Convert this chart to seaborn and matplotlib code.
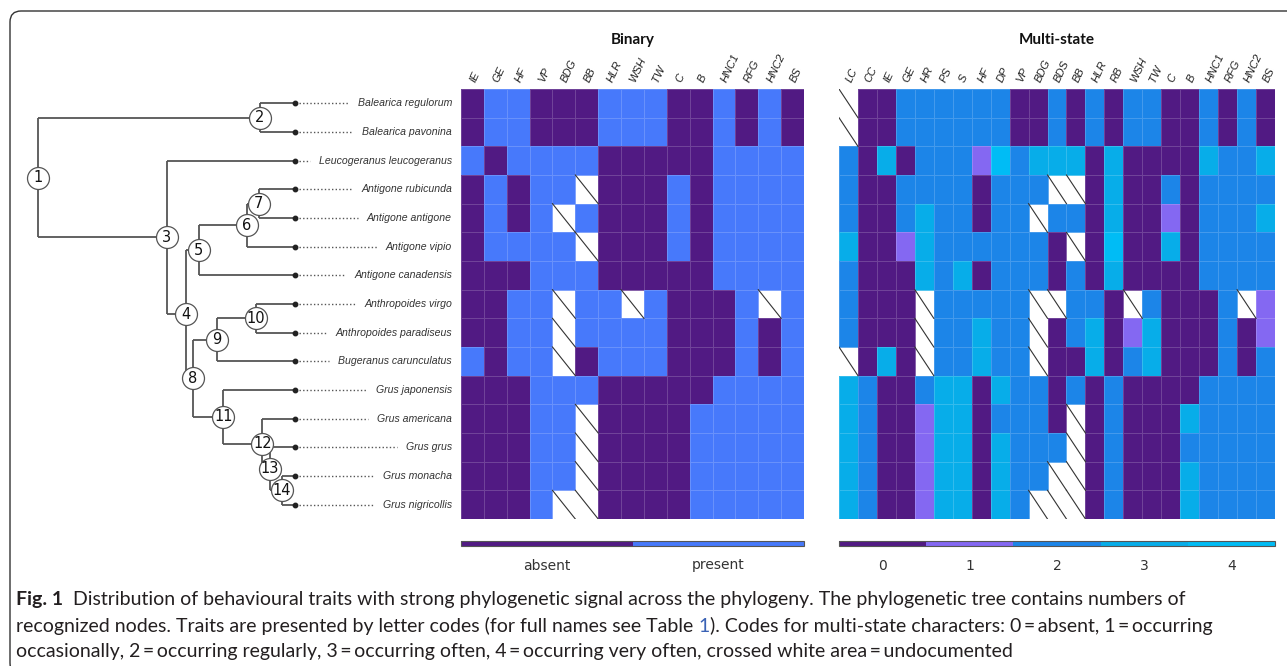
import matplotlib

matplotlib.use("Agg")
import matplotlib.pyplot as plt
import numpy as np
import pandas as pd
import seaborn as sns
from matplotlib.colors import ListedColormap
from matplotlib.patches import FancyBboxPatch
from matplotlib.transforms import IdentityTransform

N = np.nan

# ---------------------------------------------------------------------------
# Data
# ---------------------------------------------------------------------------

species = [
    "Balearica regulorum",
    "Balearica pavonina",
    "Leucogeranus leucogeranus",
    "Antigone rubicunda",
    "Antigone antigone",
    "Antigone vipio",
    "Antigone canadensis",
    "Anthropoides virgo",
    "Anthropoides paradiseus",
    "Bugeranus carunculatus",
    "Grus japonensis",
    "Grus americana",
    "Grus grus",
    "Grus monacha",
    "Grus nigricollis",
]

binary_traits = ["IE", "GE", "HF", "VP", "BDG", "BB", "HLR", "WSH", "TW",
                 "C", "B", "HNC1", "RFG", "HNC2", "BS"]
binary_values = [
    [0, 1, 1, 0, 0, 0, 1, 1, 1, 0, 0, 1, 0, 1, 0],
    [0, 1, 1, 0, 0, 0, 1, 1, 1, 0, 0, 1, 0, 1, 0],
    [1, 0, 1, 1, 1, 1, 0, 0, 0, 0, 0, 1, 1, 1, 1],
    [0, 1, 0, 1, 1, N, 0, 0, 0, 1, 0, 1, 1, 1, 1],
    [0, 1, 0, 1, N, 1, 0, 0, 0, 1, 0, 1, 1, 1, 1],
    [0, 1, 1, 1, 1, N, 0, 0, 0, 1, 0, 1, 1, 1, 1],
    [0, 0, 0, 1, 1, 1, 0, 0, 0, 0, 0, 1, 1, 1, 1],
    [0, 0, 1, 1, N, 1, 1, N, 1, 0, 0, 0, 1, N, 1],
    [0, 0, 1, 1, N, 1, 1, 1, 1, 0, 0, 0, 1, 0, 1],
    [1, 0, 1, 1, N, 0, 1, 1, 1, 0, 0, 0, 1, 0, 1],
    [0, 0, 0, 1, 1, 1, 0, 0, 0, 0, 0, 1, 1, 1, 1],
    [0, 0, 0, 1, 1, N, 0, 0, 0, 0, 1, 1, 1, 1, 1],
    [0, 0, 0, 1, 1, N, 0, 0, 0, 0, 1, 1, 1, 1, 1],
    [0, 0, 0, 1, 1, N, 0, 0, 0, 0, 1, 1, 1, 1, 1],
    [0, 0, 0, 1, N, N, 0, 0, 0, 0, 1, 1, 1, 1, 1],
]

multi_traits = ["LC", "CC", "IE", "GE", "HR", "PS", "S", "HF", "DP", "VP", "BDG",
                "BDS", "BB", "HLR", "RB", "WSH", "TW", "C", "B", "HNC1", "RFG",
                "HNC2", "BS"]
multi_values = [
    [N, 0, 0, 2, 2, 2, 2, 2, 2, 0, 0, 2, 0, 2, 0, 2, 2, 0, 0, 2, 0, 2, 0],
    [N, 0, 0, 2, 2, 2, 2, 2, 2, 0, 0, 2, 0, 2, 0, 2, 2, 0, 0, 2, 0, 2, 0],
    [2, 0, 3, 0, 2, 2, 2, 1, 4, 2, 3, 3, 3, 0, 3, 0, 0, 0, 0, 3, 2, 2, 3],
    [2, 0, 0, 2, 2, 2, 2, 0, 2, 2, 2, N, N, 0, 3, 0, 0, 2, 0, 2, 2, 2, 2],
    [2, 0, 0, 2, 3, 2, 2, 0, 2, 2, N, 2, 2, 0, 3, 0, 0, 1, 0, 2, 2, 2, 3],
    [3, 0, 0, 1, 3, 2, 2, 2, 2, 2, 2, 0, N, 0, 4, 0, 0, 3, 0, 2, 2, 2, 2],
    [2, 0, 0, 0, 3, 2, 3, 0, 2, 2, 2, 0, 2, 0, 3, 0, 0, 0, 0, 2, 2, 2, 2],
    [2, 0, 0, 0, N, 2, 2, 2, 2, 2, N, N, 2, 2, 0, N, 2, 0, 0, 0, 2, N, 1],
    [2, 0, 0, 0, N, 2, 2, 3, 2, 2, N, 0, 2, 3, 0, 1, 3, 0, 0, 0, 2, 0, 1],
    [N, 0, 3, 0, N, 2, 2, 3, 2, 2, N, 0, 0, 3, 0, 2, 3, 0, 0, 0, 2, 0, 2],
    [3, 2, 0, 0, 2, 3, 3, 0, 3, 2, 2, 0, 2, 0, 2, 0, 0, 0, 0, 2, 2, 2, 2],
    [3, 2, 0, 0, 1, 3, 3, 0, 2, 2, 2, 0, N, 0, 2, 0, 0, 0, 3, 2, 2, 2, 2],
    [3, 2, 0, 0, 1, 3, 3, 0, 3, 2, 2, 2, N, 0, 2, 0, 0, 0, 2, 2, 2, 2, 2],
    [3, 2, 0, 0, 1, 3, 3, 0, 3, 2, 2, N, N, 0, 2, 0, 0, 0, 3, 2, 2, 2, 2],
    [3, 2, 0, 0, 1, 3, 3, 0, 3, 2, N, N, N, 0, 2, 0, 0, 0, 3, 2, 2, 2, 2],
]

binary_labels = ["absent", "present"]
multi_labels = ["0", "1", "2", "3", "4"]
binary_colors = ["#511a83", "#4779fb"]
multi_colors = ["#511a83", "#8468f2", "#1c85e8", "#07ade9", "#00bcf5"]

# internal node -> children (ints are nodes, strings are tips)
tree_children = {
    1: (2, 3),
    2: ("Balearica regulorum", "Balearica pavonina"),
    3: ("Leucogeranus leucogeranus", 4),
    4: (5, 8),
    5: (6, "Antigone canadensis"),
    6: (7, "Antigone vipio"),
    7: ("Antigone rubicunda", "Antigone antigone"),
    8: (9, 11),
    9: (10, "Bugeranus carunculatus"),
    10: ("Anthropoides virgo", "Anthropoides paradiseus"),
    11: ("Grus japonensis", 12),
    12: ("Grus americana", 13),
    13: ("Grus grus", 14),
    14: ("Grus monacha", "Grus nigricollis"),
}
node_depth = {1: 37.7, 2: 260, 3: 166.7, 4: 185.7, 5: 198.7, 6: 246.7, 7: 258.7,
              8: 192.7, 9: 216.7, 10: 255.7, 11: 223.3, 12: 262.3, 13: 270, 14: 281.7}
tip_depth = 295

caption_1 = ("Distribution of behavioural traits with strong phylogenetic signal "
             "across the phylogeny. The phylogenetic tree contains numbers of")
caption_2a = "recognized nodes. Traits are presented by letter codes (for full names see Table"
caption_2b = "1"
caption_2c = "). Codes for multi-state characters: 0\u2009=\u2009absent, 1\u2009=\u2009occurring"
caption_3 = ("occasionally, 2\u2009=\u2009occurring regularly, 3\u2009=\u2009occurring often, "
             "4\u2009=\u2009occurring very often, crossed white area\u2009=\u2009undocumented")

W, H = 1287, 666
fig = plt.figure(figsize=(W / 100, H / 100), dpi=100)


def box(x0, y0, x1, y1):
    return [x0 / W, 1 - y1 / H, (x1 - x0) / W, (y1 - y0) / H]


# ---------------------------------------------------------------------------
# Heatmaps
# ---------------------------------------------------------------------------

def draw_heatmap(ax, cax, values, traits, colors, labels, title):
    df = pd.DataFrame(values, index=species, columns=traits, dtype=float)
    k = len(colors)
    sns.heatmap(
        df,
        ax=ax,
        cbar_ax=cax,
        cmap=ListedColormap(colors),
        vmin=-0.5,
        vmax=k - 0.5,
        linewidths=0.5,
        linecolor=(1, 1, 1, 0.18),
        yticklabels=False,
        cbar_kws={"orientation": "horizontal", "ticks": list(range(k))},
    )
    ax.xaxis.set_ticks_position("top")
    ax.set_xticklabels(traits, rotation=65, ha="left", va="center",
                       rotation_mode="anchor", fontstyle="italic",
                       fontsize=8, family="Liberation Sans", color="#222222")
    ax.tick_params(axis="x", length=0, pad=5)
    ax.set_xlabel("")
    ax.set_ylabel("")
    rows, cols = np.nonzero(df.isna().to_numpy())
    for i, j in zip(rows, cols):
        ax.plot([j, j + 1], [i, i + 1], color="#333333", lw=0.8)

    cbar = ax.collections[0].colorbar
    cbar.set_ticks(list(range(k)))
    cbar.set_ticklabels(labels)
    cax.tick_params(length=0, pad=9, labelsize=10, labelcolor="#333333")
    cbar.outline.set_edgecolor("#555555")
    cbar.outline.set_linewidth(0.8)

    pos = ax.get_position()
    fig.text((pos.x0 + pos.x1) / 2, 1 - 40 / H, title, ha="center", va="center",
             fontweight="bold", fontsize=11, family="Lato", color="#111111")


ax_bin = fig.add_axes(box(461, 89, 804, 519))
cax_bin = fig.add_axes(box(461, 541, 804, 546))
draw_heatmap(ax_bin, cax_bin, binary_values, binary_traits, binary_colors,
             binary_labels, "Binary")

ax_multi = fig.add_axes(box(839, 89, 1275, 519))
cax_multi = fig.add_axes(box(839, 541, 1275, 546))
draw_heatmap(ax_multi, cax_multi, multi_values, multi_traits, multi_colors,
             multi_labels, "Multi-state")

# ---------------------------------------------------------------------------
# Phylogenetic tree
# ---------------------------------------------------------------------------

tax = fig.add_axes(box(0, 89, 461, 519))
tax.set_xlim(0, 461)
tax.set_ylim(len(species), 0)
tax.axis("off")

tip_row = {name: i + 0.5 for i, name in enumerate(species)}


def node_y(n):
    if isinstance(n, str):
        return tip_row[n]
    return float(np.mean([node_y(c) for c in tree_children[n]]))


def node_x(n):
    return tip_depth if isinstance(n, str) else node_depth[n]


line_kw = dict(color="#555555", lw=1.3, solid_capstyle="butt", zorder=1)
for n, kids in tree_children.items():
    ys = [node_y(c) for c in kids]
    tax.plot([node_x(n)] * 2, [min(ys), max(ys)], **line_kw)
    for c in kids:
        tax.plot([node_x(n), node_x(c)], [node_y(c)] * 2, **line_kw)

for n in tree_children:
    tax.scatter(node_x(n), node_y(n), s=250, facecolor="white",
                edgecolor="#555555", linewidth=0.9, zorder=3, clip_on=False)
    tax.text(node_x(n), node_y(n), str(n), ha="center", va="center",
             fontsize=10.5, color="#111111", zorder=4)

tip_texts = []
for name in species:
    tax.plot(tip_depth, tip_row[name], "o", ms=3.2, color="#222222", zorder=2)
    tip_texts.append(tax.text(452, tip_row[name], name, ha="right", va="center",
                              fontstyle="italic", fontsize=7.6,
                              family="Liberation Sans", color="#333333"))

fig.canvas.draw()
renderer = fig.canvas.get_renderer()
inv = tax.transData.inverted()
for name, t in zip(species, tip_texts):
    left = inv.transform((t.get_window_extent(renderer).x0, 0))[0]
    tax.plot([tip_depth + 4, left - 9], [tip_row[name]] * 2, color="#555555",
             lw=1.0, ls=(0, (1, 1.6)), zorder=1)

# ---------------------------------------------------------------------------
# Caption and frame
# ---------------------------------------------------------------------------

cap = fig.add_axes([0, 0, 1, 1])
cap.axis("off")
cap.set_zorder(-1)
cap_kw = dict(family=["Lato", "DejaVu Sans"], fontsize=14.0, color="#231f20")

t1 = cap.text(16 / W, 1 - 600 / H, "Fig. 1", fontweight="bold", va="center", **cap_kw)
cap.annotate(caption_1, xy=(1, 0), xycoords=t1, xytext=(7, 0),
             textcoords="offset points", va="bottom", **cap_kw)

t2 = cap.text(16 / W, 1 - 626 / H, caption_2a, va="center", **cap_kw)
t2b = cap.annotate(caption_2b, xy=(1, 0), xycoords=t2, xytext=(3.6, 0),
                   textcoords="offset points", va="bottom",
                   **{**cap_kw, "color": "#3a62b5"})
cap.annotate(caption_2c, xy=(1, 0), xycoords=t2b, va="bottom", **cap_kw)

cap.text(16 / W, 1 - 652 / H, caption_3, va="center", **cap_kw)

fig.add_artist(FancyBboxPatch((10, -8), 1320, H - 11 + 8,
                              boxstyle="round,pad=0,rounding_size=11",
                              transform=IdentityTransform(), fill=False,
                              edgecolor="#333333", linewidth=1.0))

fig.savefig("out.png", dpi=100)
